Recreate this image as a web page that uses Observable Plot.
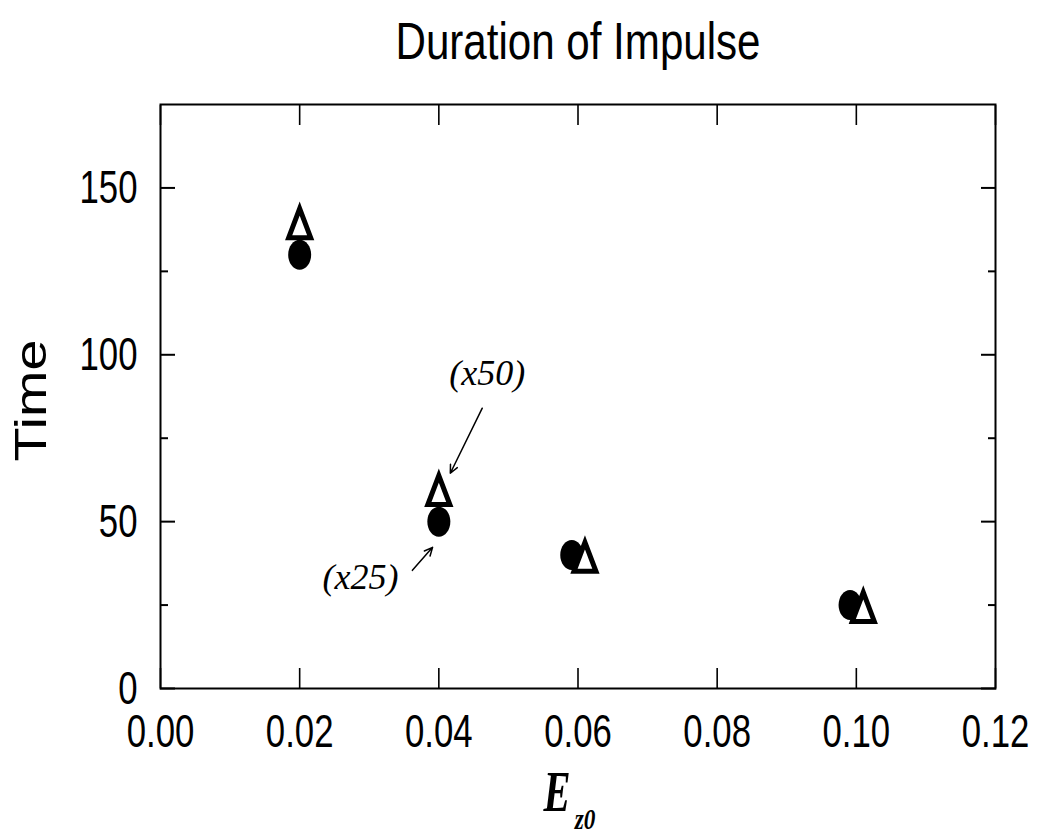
<!DOCTYPE html>
<html>
<head>
<meta charset="utf-8">
<script src="https://cdn.jsdelivr.net/npm/d3@7"></script>
<script src="https://cdn.jsdelivr.net/npm/@observablehq/plot@0.6"></script>
<style>
  html, body { margin: 0; padding: 0; background: #fff; }
  #chart svg { display: block; }
</style>
</head>
<body>
<div id="chart"></div>
<script>
// ---- data ----
const title = "Duration of Impulse";
const yLabel = "Time";
const xLabelMain = "E";
const xLabelSub = "z0";

const circleEz0 = [0.02, 0.04, 0.0591, 0.0991];
const circleTime = [130, 50, 40, 25];
const triangleEz0 = [0.02, 0.04, 0.061, 0.101];
const triangleTime = [138, 58, 38, 23];

const xTicks = [0, 0.02, 0.04, 0.06, 0.08, 0.10, 0.12];
const yMajorTicks = [0, 50, 100, 150];
const yMinorTicks = [25, 75, 125];

const noteText = ["(x50)", "(x25)"];
const noteX = [0.04695, 0.02875];
const noteY = [94.5, 33.3];
const arrowX1 = [0.04624, 0.0362];
const arrowY1 = [84.0, 35.4];
const arrowX2 = [0.04165, 0.0391];
const arrowY2 = [64.5, 42.3];

// ---- tables ----
const circles = circleEz0.map((x, i) => ({x, y: circleTime[i]}));
const triangles = triangleEz0.map((x, i) => ({x, y: triangleTime[i]}));
const notes = noteText.map((t, i) => ({t, x: noteX[i], y: noteY[i]}));
const arrows = arrowX1.map((x1, i) => ({x1, y1: arrowY1[i], x2: arrowX2[i], y2: arrowY2[i]}));

// ---- custom symbols ----
const ellipseSymbol = {
  draw(ctx) {
    const rx = 11.5, ry = 15, k = 0.5523;
    ctx.moveTo(rx, 0);
    ctx.bezierCurveTo(rx, ry * k, rx * k, ry, 0, ry);
    ctx.bezierCurveTo(-rx * k, ry, -rx, ry * k, -rx, 0);
    ctx.bezierCurveTo(-rx, -ry * k, -rx * k, -ry, 0, -ry);
    ctx.bezierCurveTo(rx * k, -ry, rx, -ry * k, rx, 0);
    ctx.closePath();
  }
};
const triangleSymbol = {
  draw(ctx) {
    const w = 11, h = 29;
    ctx.moveTo(0, -2 * h / 3);
    ctx.lineTo(w, h / 3);
    ctx.lineTo(-w, h / 3);
    ctx.closePath();
  }
};

const sans = "'Liberation Sans', Arial, sans-serif";
const serif = "'Liberation Serif', 'Times New Roman', serif";

const chart = Plot.plot({
  width: 1040,
  height: 835,
  marginLeft: 160,
  marginRight: 45,
  marginTop: 104,
  marginBottom: 147,
  style: {background: "#fff", color: "#000", overflow: "visible"},
  x: {domain: [0, 0.12]},
  y: {domain: [0, 175]},
  marks: [
    Plot.frame({stroke: "#000", strokeWidth: 2}),
    // inward ticks
    Plot.axisX({ticks: xTicks, anchor: "bottom", tickSize: -20, fill: "none", label: null, strokeWidth: 1.6}),
    Plot.axisX({ticks: xTicks, anchor: "top", tickSize: -20, fill: "none", label: null, strokeWidth: 1.6}),
    Plot.axisY({ticks: yMajorTicks, anchor: "left", tickSize: -15, fill: "none", label: null, strokeWidth: 2}),
    Plot.axisY({ticks: yMinorTicks, anchor: "left", tickSize: -8, fill: "none", label: null, strokeWidth: 2}),
    Plot.axisY({ticks: yMajorTicks, anchor: "right", tickSize: -15, fill: "none", label: null, strokeWidth: 2}),
    Plot.axisY({ticks: yMinorTicks, anchor: "right", tickSize: -8, fill: "none", label: null, strokeWidth: 2}),
    // tick labels
    Plot.axisX({ticks: xTicks, anchor: "bottom", tickSize: 0, tickPadding: 25, tickFormat: d3.format(".2f"),
      label: null, fontSize: 47, fontFamily: sans, fill: "#000"}),
    Plot.axisY({ticks: yMajorTicks, anchor: "left", tickSize: 0, tickPadding: 23, tickFormat: d3.format("d"),
      label: null, fontSize: 47, fontFamily: sans, fill: "#000"}),
    // data
    Plot.dot(circles, {x: "x", y: "y", symbol: ellipseSymbol, fill: "#000", stroke: "none"}),
    Plot.dot(triangles, {x: "x", y: "y", symbol: triangleSymbol, fill: "#fff", stroke: "#000",
      strokeWidth: 5, strokeLinejoin: "miter"}),
    // annotations
    Plot.arrow(arrows, {x1: "x1", y1: "y1", x2: "x2", y2: "y2", stroke: "#000", strokeWidth: 1.5,
      headLength: 9, headAngle: 50, bend: false}),
    Plot.text(notes, {x: "x", y: "y", text: "t", fontSize: 36, fontStyle: "italic", fontFamily: serif, fill: "#000"}),
    // titles
    Plot.text([title], {frameAnchor: "top", textAnchor: "middle", lineAnchor: "middle", dy: -62,
      fontSize: 52, fontFamily: sans, fill: "#000"}),
    Plot.text([yLabel], {frameAnchor: "left", textAnchor: "middle", lineAnchor: "middle", rotate: -90,
      dx: -129, dy: 4, fontSize: 45, fontFamily: sans, fill: "#000"}),
    Plot.text([xLabelMain], {frameAnchor: "bottom", textAnchor: "middle", lineAnchor: "middle", dx: -21, dy: 104,
      fontSize: 58, fontWeight: "bold", fontStyle: "italic", fontFamily: serif, fill: "#000"}),
    Plot.text([xLabelSub], {frameAnchor: "bottom", textAnchor: "middle", lineAnchor: "middle", dx: 7, dy: 131,
      fontSize: 29, fontWeight: "bold", fontStyle: "italic", fontFamily: serif, fill: "#000"})
  ]
});

// horizontal compression / stretch to match the reference's typeface proportions
const stretch = (sel, sx) => sel.each(function () {
  const t = this.getAttribute("transform") || "";
  this.setAttribute("transform", `${t} scale(${sx},1)`);
});
const svg = d3.select(chart);
stretch(svg.selectAll("g[aria-label='x-axis tick label'] text, g[aria-label='y-axis tick label'] text"), 0.74);
svg.selectAll("text").each(function () {
  const s = this.textContent;
  if (s === title) stretch(d3.select(this), 0.81);
  else if (s === yLabel) stretch(d3.select(this), 1.24);
  else if (s === xLabelMain) stretch(d3.select(this), 0.7);
  else if (s === xLabelSub) stretch(d3.select(this), 0.8);
});
document.getElementById("chart").appendChild(chart);
</script>
</body>
</html>
